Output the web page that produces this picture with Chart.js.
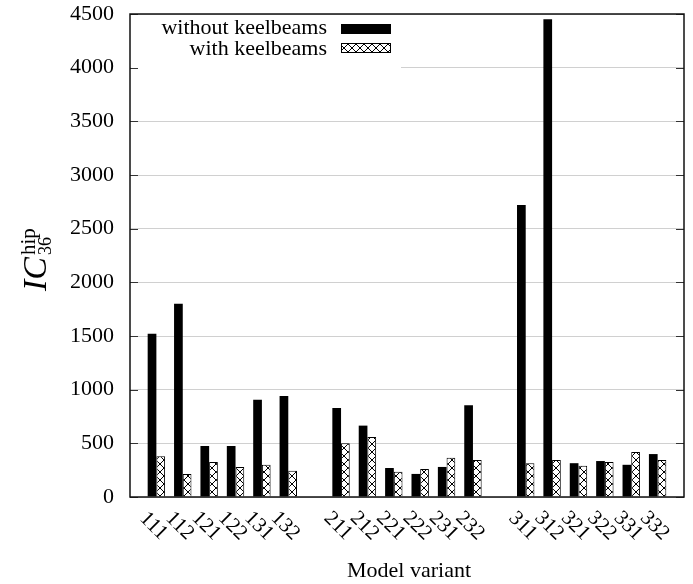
<!DOCTYPE html>
<html>
<head>
<meta charset="utf-8">
<script src="https://cdn.jsdelivr.net/npm/chart.js@4/dist/chart.umd.min.js"></script>
<style>
  body { margin: 0; background: #fff; }
</style>
</head>
<body>
<canvas id="icChart" width="693" height="584"></canvas>
<script>
// model variants, three families with a gap between them
const group1 = ['111', '112', '121', '122', '131', '132'];
const group2 = ['211', '212', '221', '222', '231', '232'];
const group3 = ['311', '312', '321', '322', '331', '332'];

// IC36 hip values
const without1 = [1520, 1800, 475, 475, 905, 940];
const without2 = [830, 665, 270, 215, 280, 855];
const without3 = [2720, 4450, 315, 335, 300, 400];

const with1 = [380, 215, 325, 280, 300, 245];
const with2 = [500, 560, 235, 260, 365, 345];
const with3 = [315, 345, 290, 325, 420, 345];

const yTicks = [0, 500, 1000, 1500, 2000, 2500, 3000, 3500, 4000, 4500];

const seriesNames = ['without keelbeams', 'with keelbeams'];

// empty slots before, between and after the groups
const labels = [''].concat(group1, [''], group2, [''], group3, ['']);
const withoutData = [null].concat(without1, [null], without2, [null], without3, [null]);
const withData = [null].concat(with1, [null], with2, [null], with3, [null]);

const serif = '"Liberation Serif", "DejaVu Serif", serif';

// cross hatch fill for the "with keelbeams" bars
function makeHatch() {
  const c = document.createElement('canvas');
  c.width = 8; c.height = 8;
  const g = c.getContext('2d');
  g.fillStyle = '#fff';
  g.fillRect(0, 0, 8, 8);
  g.strokeStyle = '#000';
  g.lineWidth = 1;
  g.beginPath();
  g.moveTo(0, 0); g.lineTo(8, 8);
  g.moveTo(8, 0); g.lineTo(0, 8);
  g.stroke();
  return g.createPattern(c, 'repeat');
}
const hatch = makeHatch();

// legend box, frame, inward ticks, rotated labels and axis titles
const decorations = {
  id: 'decorations',
  beforeDatasetsDraw(chart) {
    const ctx = chart.ctx;
    const a = chart.chartArea;
    ctx.save();
    ctx.fillStyle = '#fff';
    ctx.fillRect(a.left + 1, a.top + 1, 270, 56);
    ctx.restore();
  },
  afterDatasetsDraw(chart) {
    const ctx = chart.ctx;
    const a = chart.chartArea;
    const x = chart.scales.x;
    const y = chart.scales.y;
    ctx.save();

    // legend
    ctx.font = '22px ' + serif;
    ctx.fillStyle = '#000';
    ctx.textAlign = 'right';
    ctx.textBaseline = 'alphabetic';
    ctx.fillText(seriesNames[0], 327, 34);
    ctx.fillText(seriesNames[1], 327, 55);
    ctx.fillStyle = '#000';
    ctx.fillRect(341, 24, 50, 10);
    ctx.fillStyle = hatch;
    ctx.fillRect(341, 43, 50, 10);
    ctx.strokeStyle = '#000';
    ctx.lineWidth = 1;
    ctx.strokeRect(341.5, 43.5, 49, 9);

    // inward tick marks on both sides
    ctx.strokeStyle = '#333';
    ctx.lineWidth = 1;
    yTicks.forEach(v => {
      const py = Math.round(y.getPixelForValue(v)) + 0.5;
      ctx.beginPath();
      ctx.moveTo(a.left, py); ctx.lineTo(a.left + 8, py);
      ctx.moveTo(a.right, py); ctx.lineTo(a.right - 8, py);
      ctx.stroke();
    });

    // frame
    ctx.strokeStyle = '#111';
    ctx.lineWidth = 1.5;
    ctx.strokeRect(a.left, a.top, a.right - a.left, a.bottom - a.top);

    // x tick labels, rotated 45 degrees clockwise
    ctx.fillStyle = '#000';
    ctx.font = '21px ' + serif;
    ctx.textAlign = 'center';
    ctx.textBaseline = 'middle';
    labels.forEach((lab, i) => {
      if (!lab) return;
      const px = x.getPixelForValue(i);
      ctx.save();
      ctx.translate(px - 3, 526);
      ctx.rotate(Math.PI / 4);
      ctx.fillText(lab, 0, 0);
      ctx.restore();
    });

    // x title
    ctx.font = '22px ' + serif;
    ctx.textAlign = 'center';
    ctx.textBaseline = 'alphabetic';
    ctx.fillText('Model variant', 409, 577);

    // y title: IC with superscript hip and subscript 36
    ctx.save();
    ctx.translate(46, 291);
    ctx.rotate(-Math.PI / 2);
    ctx.textAlign = 'left';
    ctx.font = 'italic 34px ' + serif;
    ctx.fillText('IC', 0, 0);
    const w = ctx.measureText('IC').width;
    ctx.font = '21px ' + serif;
    ctx.fillText('hip', w + 2, -11);
    ctx.font = '18px ' + serif;
    ctx.fillText('36', w + 2, 5);
    ctx.restore();

    ctx.restore();
  }
};

new Chart(document.getElementById('icChart').getContext('2d'), {
  type: 'bar',
  data: {
    labels: labels,
    datasets: [
      {
        label: seriesNames[0],
        data: withoutData,
        backgroundColor: '#000',
        borderWidth: 0
      },
      {
        label: seriesNames[1],
        data: withData,
        backgroundColor: hatch,
        borderColor: '#000',
        borderWidth: 1
      }
    ]
  },
  options: {
    responsive: false,
    animation: false,
    layout: { padding: { top: 14, right: 9, left: 0, bottom: 0 } },
    categoryPercentage: 0.66,
    barPercentage: 1.0,
    plugins: {
      legend: { display: false },
      tooltip: { enabled: false }
    },
    scales: {
      x: {
        offset: false,
        grid: { display: false },
        border: { display: false },
        ticks: { display: false },
        afterFit(scale) { scale.height = 87; }
      },
      y: {
        min: 0,
        max: 4500,
        afterBuildTicks(scale) { scale.ticks = yTicks.map(v => ({ value: v })); },
        grid: { color: '#d0d0d0', lineWidth: 1, drawTicks: false },
        border: { display: false },
        ticks: {
          padding: 16,
          color: '#000',
          font: { family: serif, size: 22 },
          callback: (v) => String(v)
        },
        afterFit(scale) {
          // fixed axis width, and no extra room above the top label
          scale.width = 130;
          scale.paddingTop = 0;
          scale.paddingBottom = 0;
        }
      }
    }
  },
  plugins: [decorations]
});
</script>
</body>
</html>
